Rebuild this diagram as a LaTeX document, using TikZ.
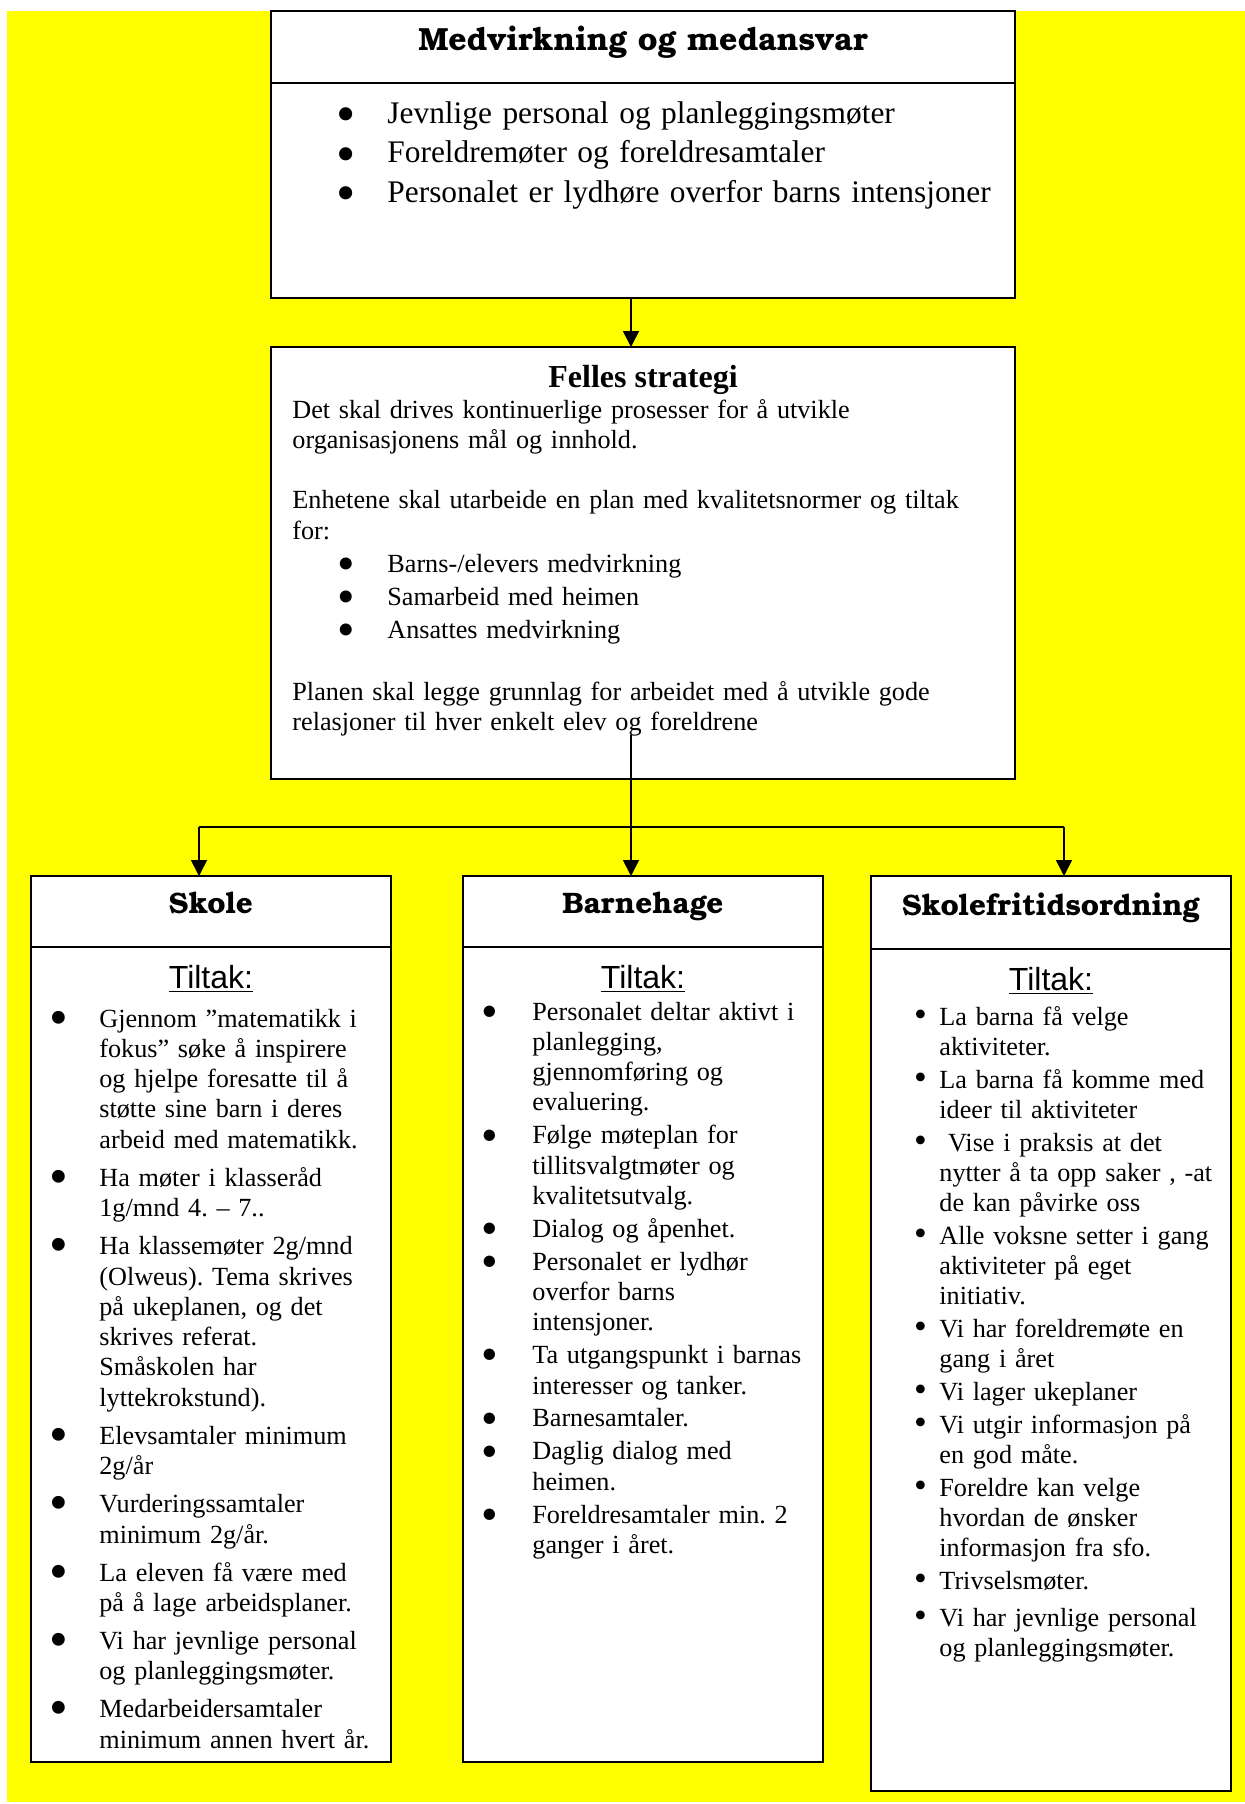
\documentclass[tikz,border=0pt]{standalone}
\usepackage{fontspec}
\setmainfont{Liberation Serif}
\newfontfamily\arialfont{Liberation Sans}
\newfontfamily\titlefont{TeX Gyre Bonum}
\usetikzlibrary{positioning,arrows.meta}
\frenchspacing
\definecolor{pageyellow}{RGB}{255,255,0}

\newlength\bulind
\newcommand\bulmark{\textbullet}
\newcommand\setbul[2]{\renewcommand\bulmark{\raisebox{#2}{\fontsize{#1}{0pt}\selectfont\textbullet}}}
\newcommand\itm{\makebox[0pt][c]{\bulmark}\hspace{\bulind}}
\newcommand\cnt{\hspace*{\bulind}}
\newcommand\bodysize{\fontsize{13.1pt}{15.15pt}\selectfont}

\begin{document}
\begin{tikzpicture}[x=0.5pt,y=-0.5pt,
head/.style={draw,fill=white,line width=1pt,outer sep=0pt,inner sep=0pt,
    minimum width=180pt,minimum height=35.5pt,text height=9pt,text depth=7.5pt,
    font=\titlefont\bfseries\fontsize{14.8pt}{17pt}\selectfont},
panel/.style={draw,fill=white,line width=1pt,outer sep=0pt,inner sep=0pt,minimum width=180pt},
list/.style={inner sep=0pt,anchor=base west,align=left,text width=175pt,font=\bodysize},
tiltak/.style={inner sep=0pt,anchor=base,font=\arialfont\fontsize{16pt}{18pt}\selectfont},
arr/.style={line width=.8pt,-{Triangle[length=8pt,width=8pt]}}]
\useasboundingbox (0,0) rectangle (1245,1804);
\fill[pageyellow] (7,11) rectangle (1245,1802);

\node (medhead) [head,minimum width=372pt,minimum height=36pt,text height=10pt,text depth=7pt,
    font=\titlefont\bfseries\fontsize{16pt}{19pt}\selectfont] at (643,47) {Medvirkning og medansvar};
\node (medbody) [panel,minimum width=372pt,minimum height=107.5pt,below=0pt of medhead] {};
\node (medlist) [list,text width=340pt,font=\fontsize{15.7pt}{19.75pt}\selectfont] at (346,123) {%
\setlength\bulind{20.5pt}\setbul{27.5pt}{-4.75pt}%
\itm Jevnlige personal og planleggingsmøter\\
\itm Foreldremøter og foreldresamtaler\\
\itm Personalet er lydhøre overfor barns intensjoner};

\node (felles) [panel,minimum width=372pt,minimum height=216pt] at (643,563) {};
\node (fellestitle) [anchor=base,inner sep=0pt,font=\bfseries\fontsize{16pt}{18pt}\selectfont] at (643,387) {Felles strategi};
\node (felleslist) [list,text width=350pt] at (292,418) {%
\setlength\bulind{20.5pt}\setbul{25pt}{-4.2pt}%
Det skal drives kontinuerlige prosesser for å utvikle\\
organisasjonens mål og innhold.\\[15.15pt]
Enhetene skal utarbeide en plan med kvalitetsnormer og tiltak\\
for:\\[1.35pt]
\hspace*{27pt}\itm Barns-/elevers medvirkning\\[1.35pt]
\hspace*{27pt}\itm Samarbeid med heimen\\[1.35pt]
\hspace*{27pt}\itm Ansattes medvirkning\\[15.85pt]
Planen skal legge grunnlag for arbeidet med å utvikle gode\\
relasjoner til hver enkelt elev og foreldrene};

\node (skolehead) [head] at (211,911.5) {Skole};
\node (skolebody) [panel,minimum height=407.5pt,below=0pt of skolehead] {};
\node (skoletiltak) [tiltak] at (211,988) {\underline{Tiltak:}};
\node (skolelist) [list] at (58,1027) {%
\setlength\bulind{20.5pt}\setbul{26.75pt}{-4pt}%
\itm Gjennom ”matematikk i\\
\cnt fokus” søke å inspirere\\
\cnt og hjelpe foresatte til å\\
\cnt støtte sine barn i deres\\
\cnt arbeid med matematikk.\\[3.9pt]
\itm Ha møter i klasseråd\\
\cnt 1g/mnd 4. – 7..\\[3.9pt]
\itm Ha klassemøter 2g/mnd\\
\cnt (Olweus). Tema skrives\\
\cnt på ukeplanen, og det\\
\cnt skrives referat.\\
\cnt Småskolen har\\
\cnt lyttekrokstund).\\[3.9pt]
\itm Elevsamtaler minimum\\
\cnt 2g/år\\[3.9pt]
\itm Vurderingssamtaler\\
\cnt minimum 2g/år.\\[3.9pt]
\itm La eleven få være med\\
\cnt på å lage arbeidsplaner.\\[3.9pt]
\itm Vi har jevnlige personal\\
\cnt og planleggingsmøter.\\[3.9pt]
\itm Medarbeidersamtaler\\
\cnt minimum annen hvert år.};

\node (barnehead) [head] at (643,911.5) {Barnehage};
\node (barnebody) [panel,minimum height=407.5pt,below=0pt of barnehead] {};
\node (barnetiltak) [tiltak] at (643,988) {\underline{Tiltak:}};
\node (barnelist) [list] at (489,1020) {%
\setlength\bulind{21.5pt}\setbul{23.75pt}{-3.6pt}%
\itm Personalet deltar aktivt i\\
\cnt planlegging,\\
\cnt gjennomføring og\\
\cnt evaluering.\\[1.3pt]
\itm Følge møteplan for\\
\cnt tillitsvalgtmøter og\\
\cnt kvalitetsutvalg.\\[1.3pt]
\itm Dialog og åpenhet.\\[1.3pt]
\itm Personalet er lydhør\\
\cnt overfor barns\\
\cnt intensjoner.\\[1.3pt]
\itm Ta utgangspunkt i barnas\\
\cnt interesser og tanker.\\[1.3pt]
\itm Barnesamtaler.\\[1.3pt]
\itm Daglig dialog med\\
\cnt heimen.\\[1.3pt]
\itm Foreldresamtaler min. 2\\
\cnt ganger i året.};

\node (sfohead) [head,minimum height=36.5pt,text depth=6.5pt] at (1051,912.5) {Skolefritidsordning};
\node (sfobody) [panel,minimum height=421pt,below=0pt of sfohead] {};
\node (sfotiltak) [tiltak] at (1051,990) {\underline{Tiltak:}};
\node (sfolist) [list] at (920,1025) {%
\setlength\bulind{9.5pt}\setbul{18.25pt}{-0.6pt}%
\itm La barna få velge\\
\cnt aktiviteter.\\[1.2pt]
\itm La barna få komme med\\
\cnt ideer til aktiviteter\\[1.2pt]
\itm\ Vise i praksis at det\\
\cnt nytter å ta opp saker , -at\\
\cnt de kan påvirke oss\\[1.2pt]
\itm Alle voksne setter i gang\\
\cnt aktiviteter på eget\\
\cnt initiativ.\\[1.2pt]
\itm Vi har foreldremøte en\\
\cnt gang i året\\[1.2pt]
\itm Vi lager ukeplaner\\[1.2pt]
\itm Vi utgir informasjon på\\
\cnt en god måte.\\[1.2pt]
\itm Foreldre kan velge\\
\cnt hvordan de ønsker\\
\cnt informasjon fra sfo.\\[1.2pt]
\itm Trivselsmøter.\\[3.2pt]
\itm Vi har jevnlige personal\\
\cnt og planleggingsmøter.};

\coordinate (spine) at (631,0);
\coordinate (split) at (631,735);
\coordinate (forkl) at (199,827);
\coordinate (forkr) at (1064,827);
\draw[arr] (medbody.south -| spine) -- (felles.north -| spine);
\draw[line width=.8pt] (split) -- (split |- forkl) (forkl) -- (forkr);
\draw[arr] (forkl) -- (forkl |- skolehead.north);
\draw[arr] (split |- forkl) -- (split |- barnehead.north);
\draw[arr] (forkr) -- (forkr |- sfohead.north);
\end{tikzpicture}
\end{document}
